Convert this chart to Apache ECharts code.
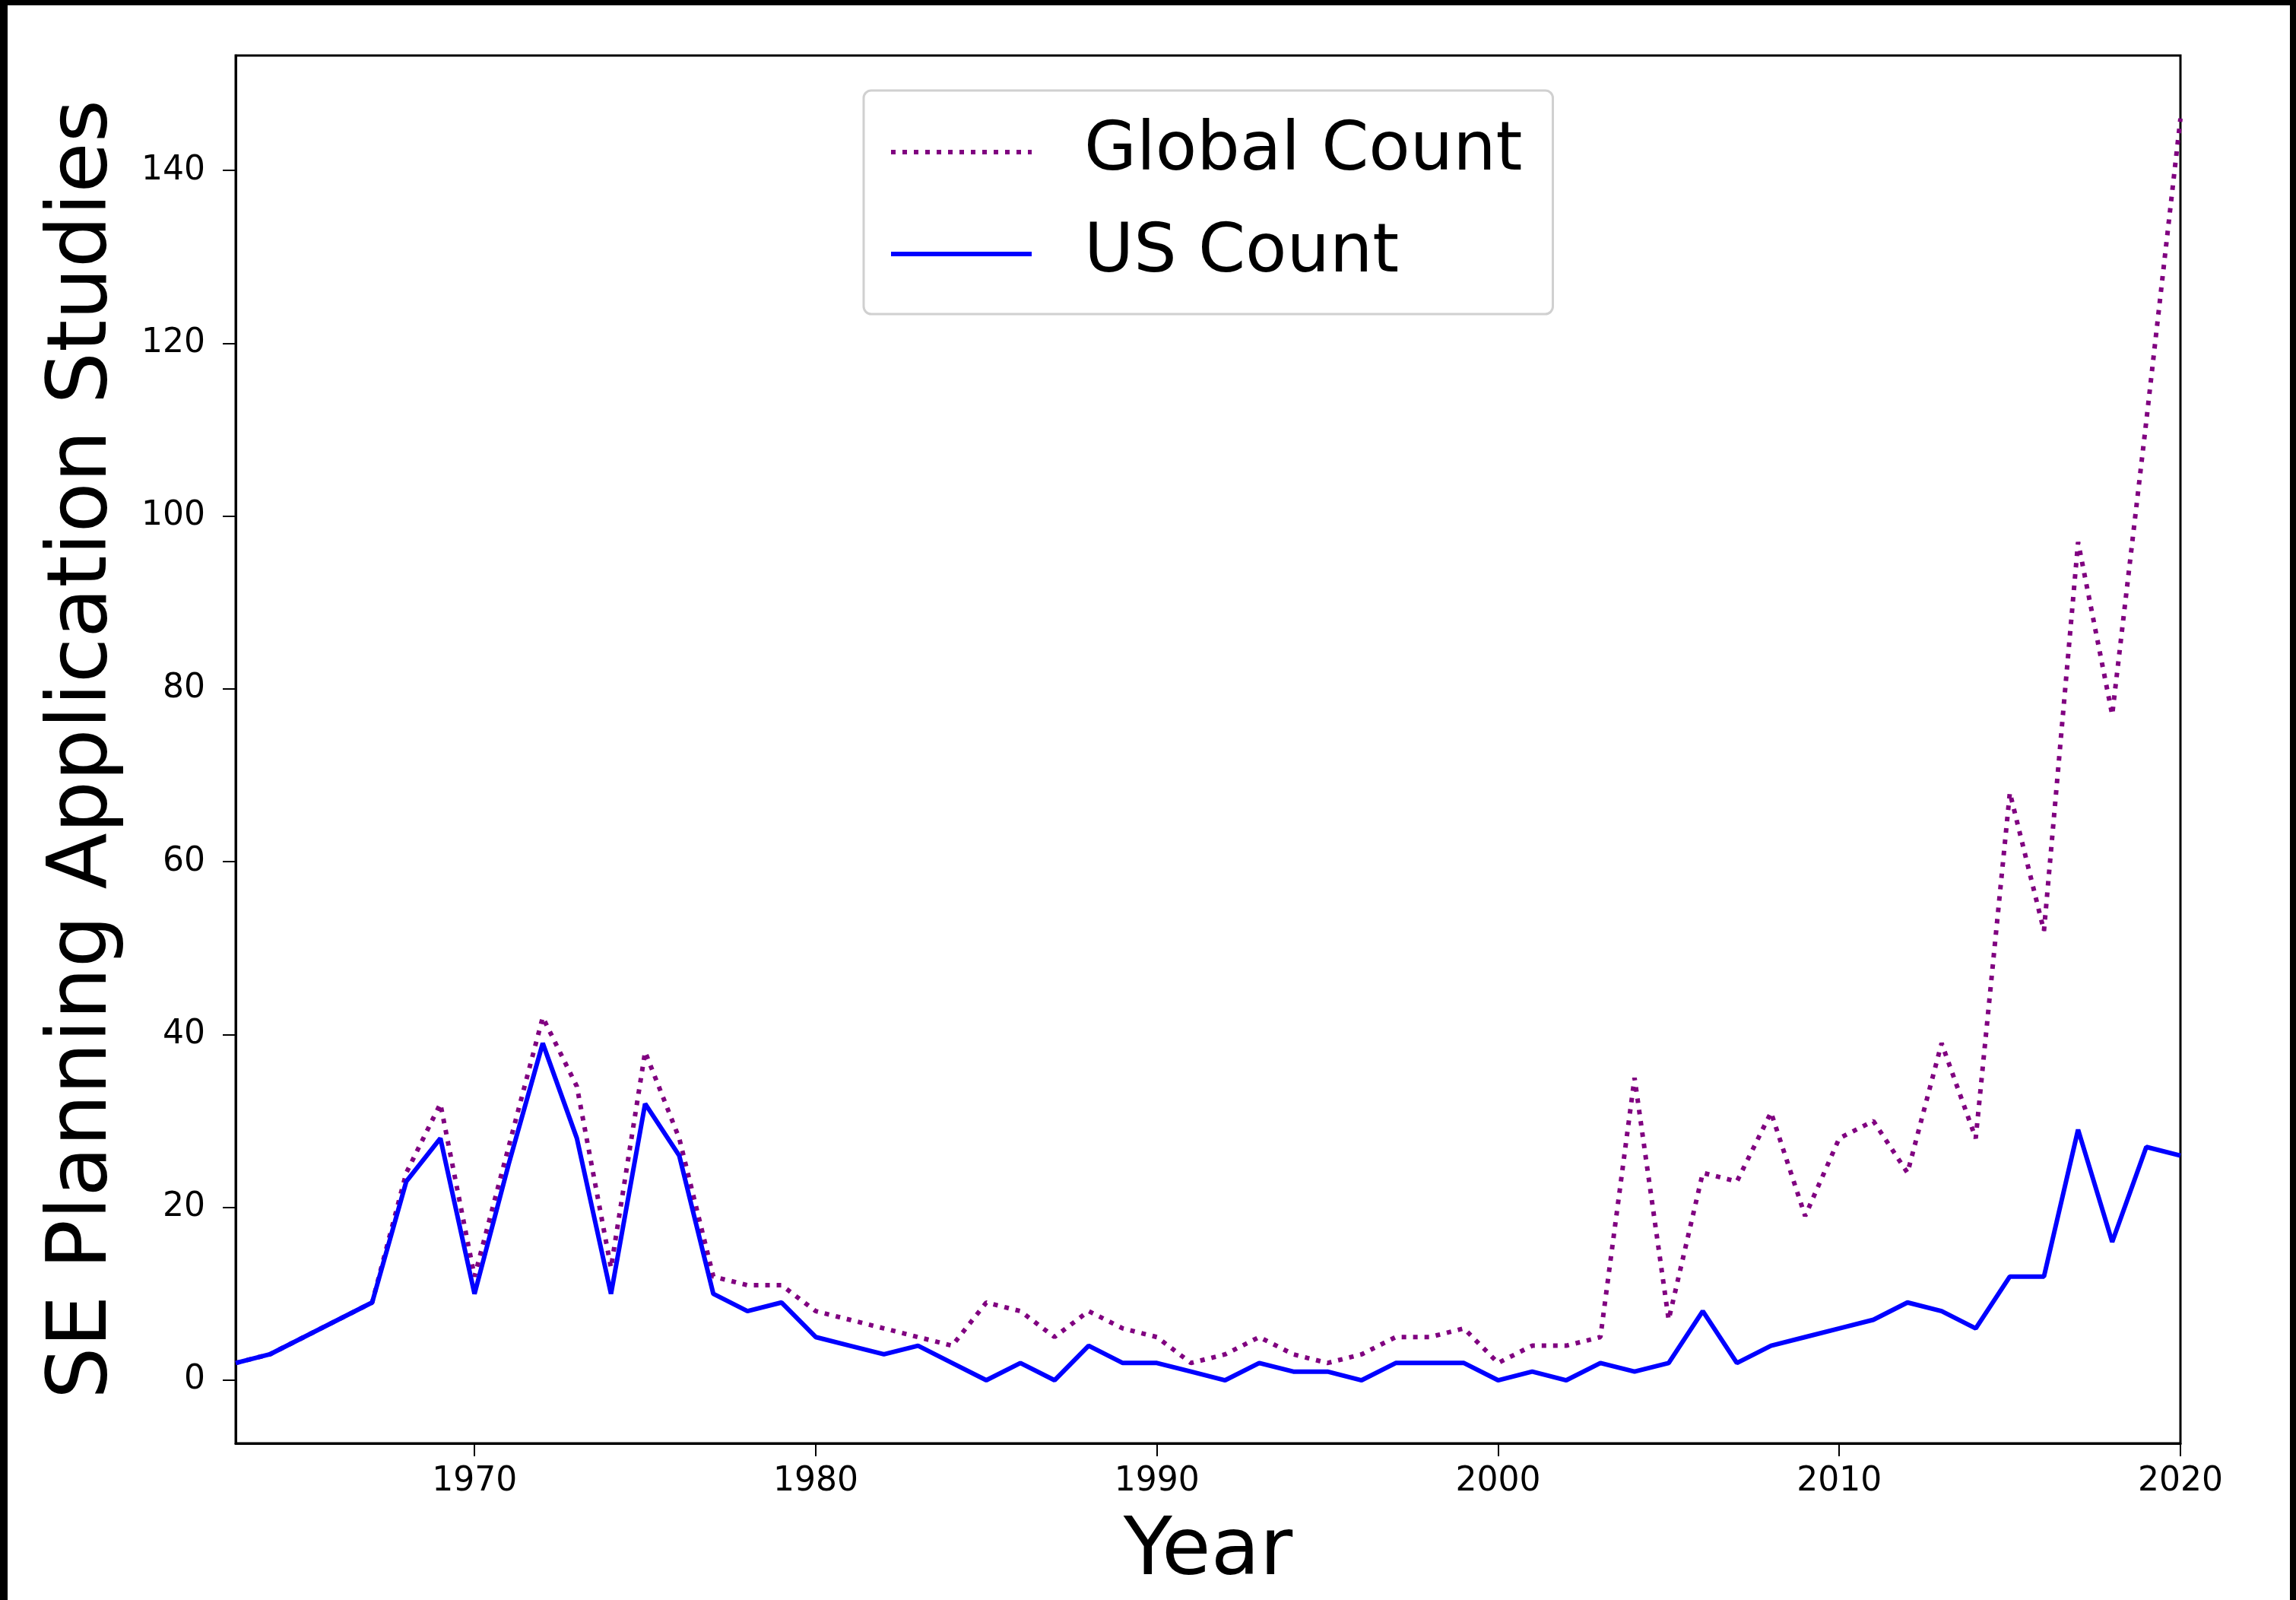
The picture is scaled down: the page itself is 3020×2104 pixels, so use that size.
<!DOCTYPE html>
<html>
<head>
<meta charset="utf-8">
<script src="https://cdn.jsdelivr.net/npm/echarts@6/dist/echarts.min.js"></script>
<style>
  html, body {
    margin: 0;
    padding: 0;
    width: 3020px;
    height: 2104px;
    background: #000;
    overflow: hidden;
  }
  #chart {
    position: absolute;
    left: 10px;
    top: 7px;
    width: 3002px;
    height: 2097px;
    background: #fff;
  }
</style>
</head>
<body>
<div id="chart"></div>
<script>
const years = [1963, 1964, 1965, 1966, 1967, 1968, 1969, 1970, 1971, 1972,
  1973, 1974, 1975, 1976, 1977, 1978, 1979, 1980, 1981, 1982,
  1983, 1984, 1985, 1986, 1987, 1988, 1989, 1990, 1991, 1992,
  1993, 1994, 1995, 1996, 1997, 1998, 1999, 2000, 2001, 2002,
  2003, 2004, 2005, 2006, 2007, 2008, 2009, 2010, 2011, 2012,
  2013, 2014, 2015, 2016, 2017, 2018, 2019, 2020]

const globalCount = [2, 3, 5, 7, 9, 24, 32, 12, 27, 42,
  34, 13, 38, 28, 12, 11, 11, 8, 7, 6,
  5, 4, 9, 8, 5, 8, 6, 5, 2, 3,
  5, 3, 2, 3, 5, 5, 6, 2, 4, 4,
  5, 35, 7, 24, 23, 31, 19, 28, 30, 24,
  39, 28, 68, 52, 97, 77, 111, 146]

const usCount = [2, 3, 5, 7, 9, 23, 28, 10, 25, 39,
  28, 10, 32, 26, 10, 8, 9, 5, 4, 3,
  4, 2, 0, 2, 0, 4, 2, 2, 1, 0,
  2, 1, 1, 0, 2, 2, 2, 0, 1, 0,
  2, 1, 2, 8, 2, 4, 5, 6, 7, 9,
  8, 6, 12, 12, 29, 16, 27, 26]

const xTicks = [1970, 1980, 1990, 2000, 2010, 2020]
const yTicks = [0, 20, 40, 60, 80, 100, 120, 140]

const FONT = 'DejaVu Sans'

const chart = echarts.init(document.getElementById('chart'))

const toPairs = vals => years.map((y, i) => [y, vals[i]])

const option = {
  animation: false,
  backgroundColor: '#fff',
  grid: {
    left: 300,
    right: 144,
    top: 66,
    bottom: 206,
    show: true,
    borderColor: '#000',
    borderWidth: 3,
    backgroundColor: 'transparent'
  },
  legend: {
    orient: 'vertical',
    left: 1126,
    top: 112,
    data: ['Global Count', 'US Count'],
    itemWidth: 185,
    itemHeight: 20,
    itemGap: 34,
    padding: [31, 40, 29, 33],
    backgroundColor: 'rgba(255,255,255,0.8)',
    borderColor: '#d0d0d0',
    borderWidth: 3,
    borderRadius: 10,
    itemStyle: { opacity: 0 },
    lineStyle: { width: 6 },
    textStyle: {
      fontFamily: FONT,
      fontSize: 89,
      lineHeight: 100,
      color: '#000',
      padding: [0, 0, 0, 64]
    }
  },
  xAxis: {
    type: 'value',
    min: 1963,
    max: 2020,
    name: 'Year',
    nameLocation: 'middle',
    nameGap: 92,
    nameTextStyle: { fontFamily: FONT, fontSize: 105, color: '#000' },
    axisLine: { show: true, onZero: false, lineStyle: { color: '#000', width: 3 } },
    axisTick: {
      show: true,
      length: 17,
      lineStyle: { color: '#000', width: 2 },
      customValues: xTicks
    },
    axisLabel: {
      fontFamily: FONT,
      fontSize: 44,
      color: '#000',
      margin: 29,
      customValues: xTicks,
      formatter: v => String(v)
    },
    splitLine: { show: false }
  },
  yAxis: {
    type: 'value',
    min: -7.3,
    max: 153.3,
    name: 'SE Planning Application Studies',
    nameLocation: 'middle',
    nameGap: 145,
    nameTextStyle: { fontFamily: FONT, fontSize: 108, color: '#000' },
    axisLine: { show: true, onZero: false, lineStyle: { color: '#000', width: 3 } },
    axisTick: {
      show: true,
      length: 17,
      lineStyle: { color: '#000', width: 2 },
      customValues: yTicks
    },
    axisLabel: {
      fontFamily: FONT,
      fontSize: 44,
      color: '#000',
      margin: 40,
      customValues: yTicks
    },
    splitLine: { show: false }
  },
  series: [
    {
      name: 'Global Count',
      type: 'line',
      data: toPairs(globalCount),
      symbol: 'none',
      z: 2,
      lineStyle: { color: '#800080', width: 6, type: [6, 9], cap: 'butt' },
      itemStyle: { color: '#800080' }
    },
    {
      name: 'US Count',
      type: 'line',
      data: toPairs(usCount),
      symbol: 'none',
      z: 3,
      lineStyle: { color: '#0000ff', width: 6 },
      itemStyle: { color: '#0000ff' }
    }
  ]
}

chart.setOption(option)
</script>
</body>
</html>
